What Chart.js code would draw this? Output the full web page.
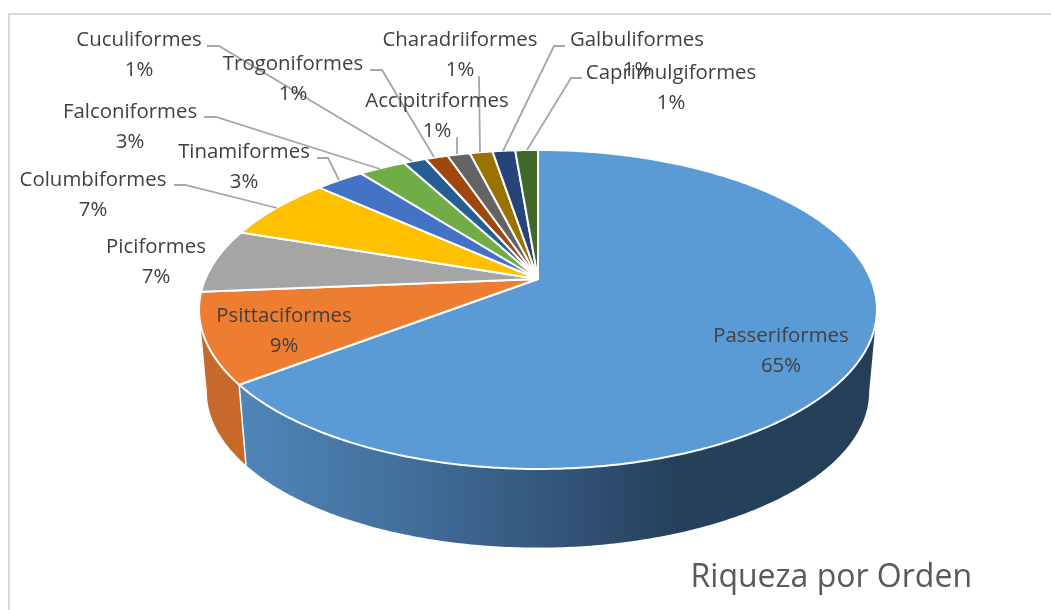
<!DOCTYPE html>
<html>
<head>
<meta charset="utf-8">
<style>html,body{margin:0;padding:0;background:#fff;overflow:hidden}canvas{display:block}</style>
<script src="https://cdn.jsdelivr.net/npm/chart.js@4/dist/chart.umd.min.js"></script>
</head>
<body>
<canvas id="c" width="1051" height="610"></canvas>
<script>
const categories = ['Passeriformes','Psittaciformes','Piciformes','Columbiformes','Tinamiformes','Falconiformes','Cuculiformes','Trogoniformes','Accipitriformes','Charadriiformes','Galbuliformes','Caprimulgiformes'];
const shares = [64.6,9.1,6.5,6.5,2.8,2.7,1.3,1.3,1.3,1.3,1.3,1.3];
const sliceColors = ['#5b9bd5','#ed7d31','#a5a5a5','#ffc000','#4472c4','#70ad47','#255e91','#9e480e','#636363','#997300','#264478','#43682b'];
const chartTitle = 'Riqueza por Orden';

// label placement (centre x, first-line y) and leader-line routes, in the order of categories
const labelAt = [[781,336],[284,316],[156,247],[93,180],[244,152],[130,112],[139,40],[293,64],[437,101],[460,40],[637,40],[671,73]];
const leaders = [null,null,null,
  [[174,185],[185,185],[277,208]],
  [[317,158],[328,158],[339,180]],
  [[204,117],[216,117],[380,169]],
  [[207,46],[219,46],[412,161]],
  [[370,70],[382,70],[434,157]],
  [[457,137],[457,154]],
  [[479,76],[480,152]],
  [[565,46],[554,46],[503,151]],
  [[582,78],[571,78],[527,150]]];

// perspective of the tilted disc
const CX=538, CY=279, A=332.7, B=153.7, P=-0.191, S=0.977, CY2=362;
function topPt(a){const u=Math.cos(a),v=Math.sin(a),d=1+P*v;return [CX+A*u/d,CY+B*v/d];}
function botPt(a){const p=topPt(a);return [CX+S*(p[0]-CX),CY2+S*(p[1]-CY)];}
function samples(a0,a1){const n=Math.max(2,Math.ceil((a1-a0)/0.01));const r=[];for(let i=0;i<=n;i++)r.push(a0+(a1-a0)*i/n);return r;}

const tiltedPie = {
  id:'tiltedPie',
  beforeDatasetsDraw(chart){
    const ctx=chart.ctx, arcs=chart.getDatasetMeta(0).data;
    const frontA=0.19, frontB=Math.PI-0.19;
    ctx.save();
    // outer frame
    ctx.strokeStyle='#d9d9d9';ctx.lineWidth=2;
    ctx.strokeRect(9,14,1100,700);
    // side walls
    arcs.forEach((el,i)=>{
      const a0=Math.max(el.startAngle,frontA), a1=Math.min(el.endAngle,frontB);
      if(a1<=a0)return;
      const s=samples(a0,a1);
      ctx.beginPath();
      s.forEach((a,k)=>{const p=topPt(a);k?ctx.lineTo(p[0],p[1]):ctx.moveTo(p[0],p[1]);});
      s.slice().reverse().forEach(a=>{const p=botPt(a);ctx.lineTo(p[0],p[1]);});
      ctx.closePath();
      if(i===0){
        const g=ctx.createLinearGradient(240,0,877,0);
        g.addColorStop(0,'#4f86b9');g.addColorStop(0.25,'#42709c');g.addColorStop(0.45,'#365a80');
        g.addColorStop(0.52,'#325277');g.addColorStop(0.68,'#25415b');g.addColorStop(1,'#243f57');
        ctx.fillStyle=g;
      } else ctx.fillStyle='#c7692b';
      ctx.fill();
    });
    const e=arcs[0].endAngle, pt=topPt(e), pb=botPt(e);
    ctx.strokeStyle='#fff';ctx.lineWidth=1.5;
    ctx.beginPath();ctx.moveTo(pt[0],pt[1]);ctx.lineTo(pb[0],pb[1]);ctx.stroke();
    // top face
    arcs.forEach(el=>{
      ctx.beginPath();ctx.moveTo(CX,CY);
      samples(el.startAngle,el.endAngle).forEach(a=>{const p=topPt(a);ctx.lineTo(p[0],p[1]);});
      ctx.closePath();
      ctx.fillStyle=el.options.backgroundColor;ctx.fill();
      ctx.strokeStyle='#fff';ctx.lineWidth=2;ctx.lineJoin='round';ctx.stroke();
    });
    // leader lines
    ctx.strokeStyle='#a6a6a6';ctx.lineWidth=1.8;ctx.lineJoin='miter';
    leaders.forEach(l=>{ if(!l)return;
      ctx.beginPath();l.forEach((p,k)=>k?ctx.lineTo(p[0],p[1]):ctx.moveTo(p[0],p[1]));ctx.stroke();});
    // labels
    ctx.font='20.4px "Open Sans", sans-serif';ctx.fillStyle='#404040';
    ctx.textAlign='center';ctx.textBaseline='middle';
    categories.forEach((c,i)=>{
      const [x,y]=labelAt[i];
      ctx.fillText(c,x,y);
      ctx.fillText(Math.round(shares[i])+'%',x,y+30);
    });
    ctx.restore();
    return false;
  }
};

new Chart(document.getElementById('c'),{
  type:'pie',
  data:{labels:categories,datasets:[{data:shares,backgroundColor:sliceColors,borderColor:'#ffffff',borderWidth:2}]},
  options:{
    responsive:false,animation:false,
    layout:{padding:{right:79,bottom:13}},
    plugins:{
      legend:{display:false},tooltip:{enabled:false},
      title:{display:true,text:chartTitle,position:'bottom',align:'end',color:'#595959',
        font:{family:'"Open Sans", sans-serif',size:32,weight:'normal'},padding:0}
    }
  },
  plugins:[tiltedPie]
});
</script>
</body>
</html>
